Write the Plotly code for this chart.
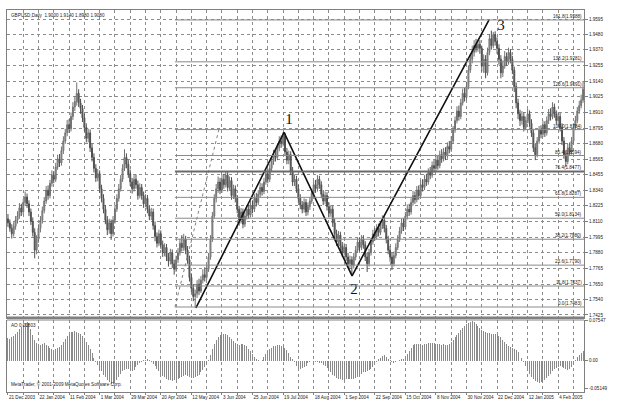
import plotly.graph_objects as go

# ---------------- data ----------------
open_ = [
    1.8130,1.8100,1.8060,1.8020,1.8075,1.8120,1.8150,1.8210,1.8180,1.8250,
    1.8290,1.8240,1.8180,1.8110,1.8030,1.7900,1.7980,1.8060,1.8120,1.8190,
    1.8260,1.8340,1.8300,1.8390,1.8450,1.8420,1.8510,1.8570,1.8540,1.8630,
    1.8700,1.8760,1.8820,1.8790,1.8880,1.8950,1.8990,1.9050,1.8980,1.8940,
    1.8870,1.8800,1.8720,1.8760,1.8650,1.8580,1.8500,1.8430,1.8460,1.8350,
    1.8280,1.8200,1.8120,1.8050,1.8100,1.8020,1.8120,1.8200,1.8280,1.8350,
    1.8420,1.8500,1.8580,1.8530,1.8460,1.8400,1.8350,1.8420,1.8380,1.8300,
    1.8360,1.8300,1.8240,1.8280,1.8200,1.8150,1.8180,1.8080,1.8000,1.7950,
    1.8020,1.7940,1.7880,1.7920,1.7850,1.7820,1.7880,1.7800,1.7760,1.7830,
    1.7880,1.7950,1.7920,1.7980,1.7900,1.7830,1.7700,1.7620,1.7560,1.7580,
    1.7650,1.7600,1.7680,1.7720,1.7700,1.7760,1.7850,1.7980,1.8150,1.8280,
    1.8350,1.8400,1.8340,1.8420,1.8380,1.8450,1.8360,1.8410,1.8300,1.8350,
    1.8280,1.8200,1.8120,1.8180,1.8090,1.8150,1.8200,1.8160,1.8230,1.8200,
    1.8280,1.8250,1.8310,1.8360,1.8330,1.8400,1.8460,1.8420,1.8500,1.8550,
    1.8600,1.8580,1.8650,1.8700,1.8680,1.8740,1.8620,1.8560,1.8600,1.8480,
    1.8400,1.8420,1.8350,1.8280,1.8230,1.8200,1.8250,1.8180,1.8220,1.8260,
    1.8320,1.8380,1.8350,1.8420,1.8380,1.8310,1.8260,1.8300,1.8220,1.8170,
    1.8200,1.8100,1.8020,1.7960,1.8010,1.7930,1.7880,1.7920,1.7850,1.7800,
    1.7830,1.7790,1.7850,1.7900,1.7960,1.7920,1.7980,1.7940,1.7850,1.7800,
    1.7880,1.7960,1.8020,1.8000,1.8060,1.8030,1.8080,1.8120,1.8060,1.7980,
    1.7900,1.7850,1.7800,1.7860,1.7920,1.7980,1.8040,1.8100,1.8070,1.8150,
    1.8200,1.8180,1.8250,1.8300,1.8270,1.8340,1.8300,1.8380,1.8360,1.8420,
    1.8400,1.8470,1.8450,1.8520,1.8500,1.8560,1.8520,1.8600,1.8570,1.8620,
    1.8590,1.8660,1.8640,1.8700,1.8780,1.8850,1.8920,1.8880,1.8980,1.9050,
    1.9020,1.9100,1.9220,1.9300,1.9350,1.9400,1.9380,1.9410,1.9380,1.9250,
    1.9300,1.9200,1.9350,1.9450,1.9400,1.9480,1.9430,1.9380,1.9300,1.9200,
    1.9250,1.9320,1.9280,1.9350,1.9300,1.9220,1.9100,1.8980,1.8900,1.8850,
    1.8880,1.8800,1.8850,1.8900,1.8830,1.8760,1.8650,1.8600,1.8700,1.8780,
    1.8750,1.8820,1.8760,1.8850,1.8900,1.8880,1.8950,1.8900,1.8850,1.8880,
    1.8800,1.8700,1.8600,1.8550,1.8650,1.8620,1.8700,1.8800,1.8850,1.8920,
    1.8960,1.9000,
]
high = [
    1.8165,1.8125,1.8090,1.8105,1.8150,1.8185,1.8245,1.8240,1.8275,1.8330,
    1.8315,1.8265,1.8205,1.8140,1.8060,1.8010,1.8090,1.8150,1.8220,1.8290,
    1.8370,1.8375,1.8415,1.8485,1.8480,1.8540,1.8600,1.8605,1.8660,1.8735,
    1.8790,1.8855,1.8860,1.8910,1.8985,1.9030,1.9130,1.9080,1.9010,1.8965,
    1.8900,1.8830,1.8790,1.8785,1.8680,1.8610,1.8530,1.8495,1.8485,1.8380,
    1.8310,1.8230,1.8150,1.8130,1.8125,1.8150,1.8230,1.8310,1.8385,1.8450,
    1.8530,1.8640,1.8610,1.8560,1.8490,1.8430,1.8450,1.8455,1.8410,1.8390,
    1.8385,1.8330,1.8310,1.8305,1.8230,1.8210,1.8205,1.8110,1.8030,1.8050,
    1.8045,1.7970,1.7950,1.7945,1.7880,1.7910,1.7905,1.7830,1.7860,1.7915,
    1.7985,1.8010,1.8020,1.8005,1.7930,1.7860,1.7730,1.7650,1.7610,1.7680,
    1.7690,1.7710,1.7760,1.7775,1.7790,1.7880,1.8010,1.8180,1.8310,1.8385,
    1.8440,1.8430,1.8455,1.8460,1.8480,1.8475,1.8440,1.8435,1.8380,1.8375,
    1.8305,1.8225,1.8210,1.8205,1.8180,1.8230,1.8235,1.8260,1.8265,1.8310,
    1.8320,1.8340,1.8395,1.8390,1.8430,1.8490,1.8495,1.8530,1.8585,1.8635,
    1.8640,1.8680,1.8735,1.8740,1.8765,1.8760,1.8650,1.8630,1.8625,1.8510,
    1.8455,1.8445,1.8380,1.8310,1.8260,1.8280,1.8275,1.8250,1.8290,1.8350,
    1.8410,1.8415,1.8450,1.8445,1.8405,1.8340,1.8330,1.8325,1.8250,1.8230,
    1.8225,1.8130,1.8050,1.8040,1.8035,1.7960,1.7950,1.7945,1.7880,1.7860,
    1.7855,1.7880,1.7930,1.7990,1.7995,1.8010,1.8010,1.7965,1.7880,1.7910,
    1.7990,1.8050,1.8060,1.8090,1.8095,1.8110,1.8155,1.8145,1.8085,1.8005,
    1.7930,1.7880,1.7890,1.7950,1.8010,1.8070,1.8130,1.8135,1.8180,1.8235,
    1.8240,1.8280,1.8335,1.8330,1.8370,1.8375,1.8410,1.8420,1.8450,1.8460,
    1.8500,1.8510,1.8550,1.8560,1.8590,1.8595,1.8630,1.8640,1.8650,1.8655,
    1.8690,1.8700,1.8735,1.8810,1.8880,1.8955,1.8960,1.9010,1.9085,1.9090,
    1.9135,1.9255,1.9340,1.9400,1.9440,1.9450,1.9445,1.9440,1.9400,1.9335,
    1.9330,1.9385,1.9485,1.9510,1.9500,1.9505,1.9460,1.9410,1.9330,1.9290,
    1.9360,1.9350,1.9385,1.9375,1.9325,1.9245,1.9130,1.9010,1.8930,1.8920,
    1.8910,1.8880,1.8935,1.8925,1.8860,1.8790,1.8680,1.8730,1.8810,1.8815,
    1.8850,1.8845,1.8880,1.8935,1.8940,1.8985,1.8975,1.8925,1.8910,1.8905,
    1.8830,1.8730,1.8630,1.8680,1.8690,1.8730,1.8830,1.8885,1.8950,1.8995,
    1.9040,1.9140,
]
low = [
    1.8070,1.8035,1.7985,1.8000,1.8050,1.8095,1.8130,1.8150,1.8160,1.8225,
    1.8210,1.8150,1.8085,1.8000,1.7840,1.7870,1.7955,1.8030,1.8095,1.8170,
    1.8240,1.8270,1.8280,1.8365,1.8390,1.8400,1.8490,1.8510,1.8520,1.8605,
    1.8680,1.8735,1.8760,1.8770,1.8855,1.8920,1.8960,1.8950,1.8900,1.8840,
    1.8770,1.8690,1.8690,1.8620,1.8550,1.8470,1.8400,1.8405,1.8320,1.8250,
    1.8170,1.8090,1.8010,1.8020,1.7975,1.8000,1.8095,1.8180,1.8255,1.8330,
    1.8400,1.8480,1.8500,1.8430,1.8370,1.8315,1.8330,1.8350,1.8270,1.8280,
    1.8270,1.8210,1.8215,1.8170,1.8120,1.8120,1.8050,1.7965,1.7920,1.7930,
    1.7910,1.7850,1.7855,1.7820,1.7780,1.7795,1.7770,1.7720,1.7740,1.7805,
    1.7860,1.7890,1.7895,1.7870,1.7800,1.7670,1.7590,1.7525,1.7475,1.7550,
    1.7570,1.7585,1.7655,1.7670,1.7680,1.7740,1.7830,1.7960,1.8130,1.8250,
    1.8320,1.8310,1.8320,1.8350,1.8360,1.8330,1.8340,1.8270,1.8275,1.8250,
    1.8170,1.8080,1.8095,1.8060,1.8070,1.8125,1.8130,1.8140,1.8170,1.8180,
    1.8220,1.8230,1.8285,1.8300,1.8310,1.8380,1.8390,1.8400,1.8475,1.8525,
    1.8550,1.8560,1.8625,1.8650,1.8660,1.8590,1.8530,1.8530,1.8450,1.8370,
    1.8370,1.8320,1.8250,1.8200,1.8170,1.8175,1.8150,1.8155,1.8195,1.8240,
    1.8300,1.8320,1.8330,1.8350,1.8280,1.8230,1.8235,1.8190,1.8140,1.8145,
    1.8070,1.7990,1.7930,1.7935,1.7900,1.7850,1.7860,1.7820,1.7770,1.7760,
    1.7715,1.7765,1.7825,1.7880,1.7890,1.7900,1.7910,1.7820,1.7740,1.7780,
    1.7860,1.7940,1.7970,1.7980,1.8000,1.8010,1.8055,1.8030,1.7950,1.7870,
    1.7815,1.7755,1.7780,1.7840,1.7900,1.7960,1.8020,1.8040,1.8050,1.8125,
    1.8150,1.8160,1.8225,1.8240,1.8250,1.8270,1.8280,1.8330,1.8340,1.8370,
    1.8380,1.8420,1.8430,1.8470,1.8480,1.8490,1.8500,1.8540,1.8550,1.8560,
    1.8570,1.8610,1.8620,1.8680,1.8760,1.8830,1.8850,1.8860,1.8960,1.8990,
    1.9000,1.9080,1.9200,1.9270,1.9320,1.9350,1.9355,1.9340,1.9210,1.9200,
    1.9160,1.9180,1.9330,1.9370,1.9380,1.9400,1.9340,1.9260,1.9160,1.9170,
    1.9230,1.9250,1.9260,1.9270,1.9190,1.9060,1.8940,1.8860,1.8810,1.8820,
    1.8770,1.8780,1.8830,1.8800,1.8730,1.8620,1.8560,1.8580,1.8680,1.8720,
    1.8730,1.8730,1.8740,1.8825,1.8850,1.8860,1.8870,1.8820,1.8825,1.8770,
    1.8670,1.8570,1.8510,1.8530,1.8590,1.8600,1.8680,1.8780,1.8830,1.8900,
    1.8940,1.8980,
]
close = [
    1.8100,1.8060,1.8020,1.8075,1.8120,1.8150,1.8210,1.8180,1.8250,1.8290,
    1.8240,1.8180,1.8110,1.8030,1.7900,1.7980,1.8060,1.8120,1.8190,1.8260,
    1.8340,1.8300,1.8390,1.8450,1.8420,1.8510,1.8570,1.8540,1.8630,1.8700,
    1.8760,1.8820,1.8790,1.8880,1.8950,1.8990,1.9050,1.8980,1.8940,1.8870,
    1.8800,1.8720,1.8760,1.8650,1.8580,1.8500,1.8430,1.8460,1.8350,1.8280,
    1.8200,1.8120,1.8050,1.8100,1.8020,1.8120,1.8200,1.8280,1.8350,1.8420,
    1.8500,1.8580,1.8530,1.8460,1.8400,1.8350,1.8420,1.8380,1.8300,1.8360,
    1.8300,1.8240,1.8280,1.8200,1.8150,1.8180,1.8080,1.8000,1.7950,1.8020,
    1.7940,1.7880,1.7920,1.7850,1.7820,1.7880,1.7800,1.7760,1.7830,1.7880,
    1.7950,1.7920,1.7980,1.7900,1.7830,1.7700,1.7620,1.7560,1.7580,1.7650,
    1.7600,1.7680,1.7720,1.7700,1.7760,1.7850,1.7980,1.8150,1.8280,1.8350,
    1.8400,1.8340,1.8420,1.8380,1.8450,1.8360,1.8410,1.8300,1.8350,1.8280,
    1.8200,1.8120,1.8180,1.8090,1.8150,1.8200,1.8160,1.8230,1.8200,1.8280,
    1.8250,1.8310,1.8360,1.8330,1.8400,1.8460,1.8420,1.8500,1.8550,1.8600,
    1.8580,1.8650,1.8700,1.8680,1.8740,1.8620,1.8560,1.8600,1.8480,1.8400,
    1.8420,1.8350,1.8280,1.8230,1.8200,1.8250,1.8180,1.8220,1.8260,1.8320,
    1.8380,1.8350,1.8420,1.8380,1.8310,1.8260,1.8300,1.8220,1.8170,1.8200,
    1.8100,1.8020,1.7960,1.8010,1.7930,1.7880,1.7920,1.7850,1.7800,1.7830,
    1.7790,1.7850,1.7900,1.7960,1.7920,1.7980,1.7940,1.7850,1.7800,1.7880,
    1.7960,1.8020,1.8000,1.8060,1.8030,1.8080,1.8120,1.8060,1.7980,1.7900,
    1.7850,1.7800,1.7860,1.7920,1.7980,1.8040,1.8100,1.8070,1.8150,1.8200,
    1.8180,1.8250,1.8300,1.8270,1.8340,1.8300,1.8380,1.8360,1.8420,1.8400,
    1.8470,1.8450,1.8520,1.8500,1.8560,1.8520,1.8600,1.8570,1.8620,1.8590,
    1.8660,1.8640,1.8700,1.8780,1.8850,1.8920,1.8880,1.8980,1.9050,1.9020,
    1.9100,1.9220,1.9300,1.9350,1.9400,1.9380,1.9410,1.9380,1.9250,1.9300,
    1.9200,1.9350,1.9450,1.9400,1.9480,1.9430,1.9380,1.9300,1.9200,1.9250,
    1.9320,1.9280,1.9350,1.9300,1.9220,1.9100,1.8980,1.8900,1.8850,1.8880,
    1.8800,1.8850,1.8900,1.8830,1.8760,1.8650,1.8600,1.8700,1.8780,1.8750,
    1.8820,1.8760,1.8850,1.8900,1.8880,1.8950,1.8900,1.8850,1.8880,1.8800,
    1.8700,1.8600,1.8550,1.8650,1.8620,1.8700,1.8800,1.8850,1.8920,1.8960,
    1.9000,1.9080,
]
ao = [
    0.043,0.042,0.044,0.046,0.050,0.055,0.060,0.064,0.068,0.071,
    0.074,0.072,0.060,0.048,0.040,0.034,0.031,0.030,0.032,0.033,
    0.030,0.028,0.025,0.022,0.020,0.022,0.024,0.026,0.030,0.036,
    0.042,0.047,0.051,0.054,0.055,0.056,0.055,0.053,0.050,0.046,
    0.041,0.036,0.030,0.022,0.014,0.006,-0.002,-0.008,-0.014,-0.020,
    -0.026,-0.031,-0.036,-0.040,-0.043,-0.044,-0.041,-0.036,-0.030,-0.024,
    -0.020,-0.017,-0.015,-0.016,-0.019,-0.020,-0.017,-0.012,-0.008,-0.004,
    -0.002,0.001,0.002,0.003,0.001,-0.002,-0.006,-0.010,-0.015,-0.019,
    -0.024,-0.028,-0.031,-0.034,-0.036,-0.037,-0.038,-0.037,-0.036,-0.034,
    -0.032,-0.030,-0.028,-0.027,-0.028,-0.030,-0.032,-0.033,-0.031,-0.029,
    -0.026,-0.022,-0.017,-0.012,-0.006,0.001,0.010,0.022,0.032,0.040,
    0.045,0.048,0.050,0.051,0.050,0.048,0.045,0.041,0.037,0.034,
    0.032,0.030,0.031,0.032,0.030,0.027,0.023,0.018,0.013,0.008,
    0.004,0.001,-0.001,0.002,0.008,0.013,0.018,0.022,0.025,0.027,
    0.028,0.029,0.029,0.028,0.027,0.024,0.020,0.014,0.008,0.003,
    -0.003,-0.009,-0.013,-0.015,-0.014,-0.012,-0.009,-0.005,-0.002,-0.001,
    -0.002,-0.003,-0.003,-0.004,-0.005,-0.007,-0.010,-0.014,-0.018,-0.022,
    -0.026,-0.029,-0.032,-0.034,-0.035,-0.036,-0.036,-0.035,-0.035,-0.034,
    -0.035,-0.034,-0.033,-0.030,-0.027,-0.024,-0.022,-0.021,-0.020,-0.018,
    -0.015,-0.011,-0.006,-0.002,0.003,0.006,0.009,0.010,0.008,0.004,
    0.001,-0.003,-0.004,-0.003,-0.001,0.001,0.003,0.004,0.007,0.013,
    0.019,0.025,0.030,0.032,0.032,0.031,0.031,0.030,0.031,0.032,
    0.033,0.034,0.034,0.033,0.032,0.031,0.031,0.030,0.031,0.030,
    0.030,0.032,0.035,0.039,0.044,0.049,0.053,0.058,0.062,0.066,
    0.069,0.072,0.074,0.075,0.073,0.070,0.066,0.062,0.058,0.056,
    0.054,0.053,0.052,0.051,0.050,0.050,0.049,0.047,0.044,0.040,
    0.036,0.031,0.028,0.026,0.024,0.022,0.020,0.016,0.011,0.005,
    -0.002,-0.010,-0.018,-0.025,-0.031,-0.035,-0.038,-0.040,-0.041,-0.040,
    -0.039,-0.036,-0.032,-0.028,-0.024,-0.020,-0.016,-0.013,-0.011,-0.010,
    -0.011,-0.013,-0.016,-0.017,-0.015,-0.011,-0.006,0.002,0.007,0.011,
    0.015,0.018,
]

date_labels = ["21 Dec 2003", "22 Jan 2004", "11 Feb 2004", "1 Mar 2004", "29 Mar 2004",
               "20 Apr 2004", "12 May 2004", "3 Jun 2004", "25 Jun 2004", "19 Jul 2004",
               "18 Aug 2004", "1 Sep 2004", "22 Sep 2004", "15 Oct 2004", "8 Nov 2004",
               "30 Nov 2004", "22 Dec 2004", "12 Jan 2005", "4 Feb 2005"]
date_label_bars = [0, 16, 32, 48, 64, 80, 96, 112, 128, 144, 160, 176, 192, 208, 224,
                   240, 256, 272, 288]
grid_bars = list(range(0, 297, 8))

price_ticks = [1.9595, 1.9480, 1.9370, 1.9255, 1.9140, 1.9025, 1.8910, 1.8795, 1.8680,
               1.8565, 1.8455, 1.8340, 1.8225, 1.8110, 1.7995, 1.7880, 1.7765, 1.7650,
               1.7540, 1.7425]
ao_ticks = [0.07547, 0.0, -0.05149]
ao_tick_text = ["0.07547", "0.00", "-0.05149"]

fib_pct = [0.0, 11.8, 23.6, 38.2, 50.0, 61.8, 76.4, 85.4, 100.0, 123.6, 138.2, 161.8]
fib_price = [1.7483, 1.7637, 1.7790, 1.7980, 1.8134, 1.8287, 1.8477, 1.8594, 1.8784,
             1.9091, 1.9281, 1.9588]
fib_start_bar = 87.4
fib_trend_bar = [87.4, 110.4]
fib_trend_price = [1.7483, 1.8784]

zz_bar = [98.4, 144.5, 180.1, 251.8]
zz_price = [1.7476, 1.8764, 1.7711, 1.9588]
zz_label = ["1", "2", "3"]
zz_label_bar = [147.1, 181.1, 258.0]
zz_label_price = [1.8852, 1.7608, 1.9543]

N = len(close)
bars = list(range(N))

GRID = "#8c8c8c"
FRAME = "#808080"
FONT = "Liberation Sans"
FS = 4.6
TXT = "#222222"

fig = go.Figure()

fig.add_trace(go.Candlestick(
    x=bars, open=open_, high=high, low=low, close=close,
    xaxis="x", yaxis="y", whiskerwidth=0,
    increasing=dict(line=dict(color="#727272", width=1), fillcolor="#a4a4a4"),
    decreasing=dict(line=dict(color="#4e4e4e", width=1), fillcolor="#6c6c6c"),
    showlegend=False, hoverinfo="skip"))

fig.add_trace(go.Scatter(x=fib_trend_bar, y=fib_trend_price, mode="lines",
                         line=dict(color="#808080", width=1, dash="dot"),
                         xaxis="x", yaxis="y", showlegend=False, hoverinfo="skip"))

fig.add_trace(go.Scatter(x=zz_bar, y=zz_price, mode="lines",
                         line=dict(color="#111111", width=1.6),
                         xaxis="x", yaxis="y", showlegend=False, hoverinfo="skip"))

fig.add_trace(go.Scatter(x=zz_label_bar, y=zz_label_price, mode="text", text=zz_label,
                         textfont=dict(family="Liberation Serif", size=15, color="#111111"),
                         xaxis="x", yaxis="y", showlegend=False, hoverinfo="skip"))

fig.add_trace(go.Bar(x=bars, y=ao, xaxis="x2", yaxis="y2", width=0.52,
                     marker=dict(color="#8a8a8a", line=dict(width=0)),
                     showlegend=False, hoverinfo="skip"))

shapes = []
annotations = []
for pct, p in zip(fib_pct, fib_price):
    thick = pct == 76.4
    shapes.append(dict(type="line", xref="x", yref="y", x0=fib_start_bar, x1=N - 0.5,
                       y0=p, y1=p, line=dict(color="#6a6a6a" if thick else "#8a8a8a",
                                             width=2 if thick else 1)))
    annotations.append(dict(xref="x", yref="y", x=N - 0.5, y=p, xanchor="right",
                            yanchor="bottom", showarrow=False, yshift=-1,
                            text="%.1f(%.4f)" % (pct, p),
                            font=dict(family=FONT, size=FS, color=TXT)))

shapes.append(dict(type="line", xref="paper", yref="paper", x0=0, x1=1,
                   y0=0.1950, y1=0.1950, line=dict(color=FRAME, width=2)))
shapes.append(dict(type="line", xref="paper", yref="paper", x0=0, x1=1,
                   y0=0.1885, y1=0.1885, line=dict(color=FRAME, width=1)))

annotations.append(dict(xref="paper", yref="paper", x=0, y=1, xanchor="left", yanchor="top",
                        xshift=2, yshift=-1, showarrow=False,
                        text="GBPUSD,Daily  %.4f %.4f %.4f %.4f" % (open_[-1], high[-1], low[-1], close[-1]),
                        font=dict(family=FONT, size=FS, color=TXT)))
annotations.append(dict(xref="paper", yref="paper", x=0, y=0.1885, xanchor="left", yanchor="top",
                        xshift=2, yshift=-1, showarrow=False, text="AO 0.01803",
                        font=dict(family=FONT, size=FS, color=TXT)))
annotations.append(dict(xref="paper", yref="paper", x=0, y=0, xanchor="left", yanchor="bottom",
                        xshift=2, yshift=3, showarrow=False,
                        text="MetaTrader, © 2001-2009 MetaQuotes Software Corp.",
                        font=dict(family=FONT, size=FS, color=TXT)))

tick_text = []
for b in grid_bars:
    tick_text.append(date_labels[date_label_bars.index(b)] if b in date_label_bars else "")

common_x = dict(range=[-0.5, N - 0.5], tickvals=grid_bars, showgrid=True, griddash="dot",
                gridcolor=GRID, gridwidth=1, zeroline=False, showline=True,
                linecolor=FRAME, linewidth=1, automargin=False)

fig.update_layout(
    width=623, height=405,
    margin=dict(l=7, r=39, t=10, b=13, autoexpand=False),
    paper_bgcolor="white", plot_bgcolor="white",
    bargap=0,
    xaxis=dict(domain=[0, 1], anchor="y", showticklabels=False, ticks="", mirror=True,
               rangeslider=dict(visible=False), **common_x),
    xaxis2=dict(domain=[0, 1], anchor="y2", matches="x", ticktext=tick_text, ticks="outside",
                ticklen=2, tickcolor=FRAME, ticklabelposition="outside right", tickangle=0,
                tickfont=dict(family=FONT, size=FS, color=TXT), mirror=False,
                **common_x),
    yaxis=dict(domain=[0.1950, 1], anchor="x", range=[1.7406, 1.9661], side="right",
               tickvals=price_ticks, ticktext=["%.4f" % v for v in price_ticks],
               tickfont=dict(family=FONT, size=FS, color=TXT),
               ticks="outside", ticklen=3, tickcolor=FRAME, automargin=False,
               showgrid=True, griddash="dot", gridcolor=GRID, gridwidth=1,
               zeroline=False, showline=True, mirror=True, linecolor=FRAME, linewidth=1),
    yaxis2=dict(domain=[0, 0.1885], anchor="x2", range=[-0.0589, 0.0770], side="right",
                tickvals=ao_ticks, ticktext=ao_tick_text,
                tickfont=dict(family=FONT, size=FS, color=TXT),
                ticks="outside", ticklen=3, tickcolor=FRAME, automargin=False,
                showgrid=False, zeroline=False, showline=True, mirror=True,
                linecolor=FRAME, linewidth=1),
    shapes=shapes, annotations=annotations,
)

fig.write_html("out.html",
               config={"displayModeBar": False, "staticPlot": True},
               post_script="document.body.style.margin='0';document.body.style.padding='0';")
